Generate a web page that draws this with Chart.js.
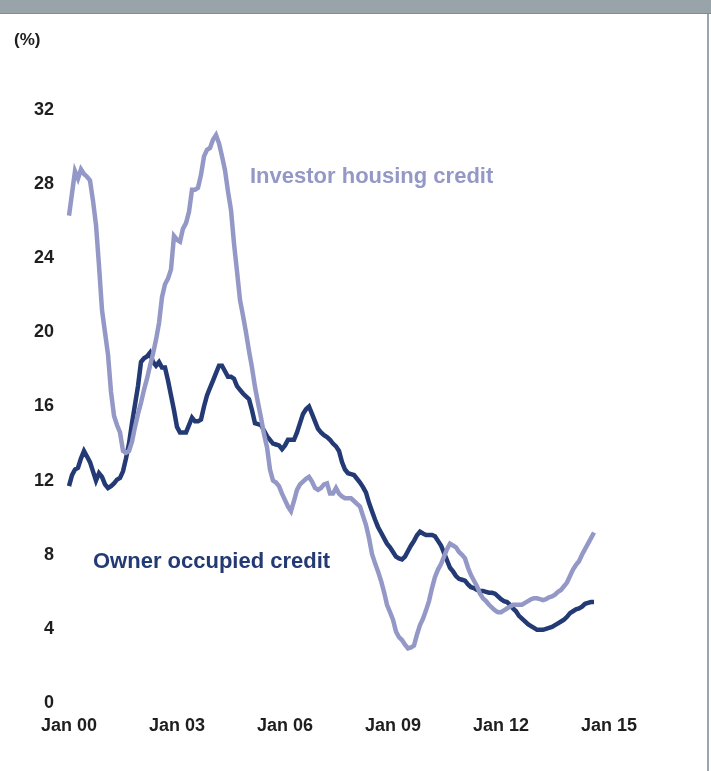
<!DOCTYPE html>
<html>
<head>
  <title>Housing credit growth</title>
  <script src="https://cdn.jsdelivr.net/npm/chart.js@4.4.1/dist/chart.umd.min.js"></script>
  <style>
    body { margin: 0; background: #fff; }
    #frame { position: relative; width: 711px; height: 771px; overflow: hidden; }
    #topbar { position: absolute; left: 0; top: 0; width: 711px; height: 13px; background: #98a4aa; border-bottom: 1px solid #7f8c93; }
    #rightline { position: absolute; left: 707px; top: 14px; width: 2px; height: 757px; background: #9aa6ac; }
    canvas { position: absolute; left: 0; top: 0; }
    .note { position: absolute; font-family: "Liberation Sans", Arial, sans-serif; font-weight: bold; white-space: nowrap; }
  </style>
</head>
<body>
  <div id="frame">
    <canvas id="lineChart" width="711" height="771"></canvas>
    <div id="topbar"></div>
    <div id="rightline"></div>
    <div class="note" style="left:14px; top:30px; font-size:17px; color:#1e1e1e;">(%)</div>
    <div class="note" style="left:250px; top:163px; font-size:22px; color:#9498c6;">Investor housing credit</div>
    <div class="note" style="left:93px; top:548px; font-size:22px; color:#243a74;">Owner occupied credit</div>
  </div>

  <script>
    // monthly, Jan 2000 to Aug 2014, year-ended growth (%)
    var ownerOccupied = [
      11.7, 12.3, 12.6, 12.7, 13.2, 13.6, 13.3, 13.0, 12.5, 12.0, 12.4, 12.2,
      11.8, 11.6, 11.7, 11.85, 12.05, 12.15, 12.5, 13.2, 14.0, 15.1, 16.1, 17.1,
      18.4, 18.6, 18.7, 18.9, 18.4, 18.2, 18.4, 18.1, 18.1, 17.4, 16.6, 15.8,
      14.9, 14.6, 14.6, 14.6, 15.0, 15.4, 15.2, 15.2, 15.3, 16.0, 16.6, 17.0,
      17.4, 17.8, 18.2, 18.2, 17.9, 17.6, 17.6, 17.5, 17.1, 16.9, 16.7, 16.55,
      16.4, 15.8, 15.1, 15.05, 15.0, 14.7, 14.4, 14.2, 14.0, 13.95, 13.9, 13.7,
      13.9, 14.2, 14.2, 14.2, 14.6, 15.1, 15.6, 15.85, 16.0, 15.6, 15.2, 14.8,
      14.6, 14.45, 14.35, 14.2, 14.0, 13.85, 13.6, 13.0, 12.6, 12.4, 12.35, 12.3,
      12.1, 11.9, 11.65, 11.35, 10.8, 10.35, 9.9, 9.5, 9.2, 8.9, 8.6, 8.4,
      8.15, 7.9, 7.8, 7.75, 7.9, 8.2, 8.5, 8.75, 9.05, 9.25, 9.15, 9.07,
      9.07, 9.07, 9.0, 8.75, 8.5, 8.1, 7.7, 7.3, 7.1, 6.85, 6.7, 6.65,
      6.6, 6.4, 6.25, 6.2, 6.1, 6.05, 6.05, 6.0, 5.95, 5.95, 5.9, 5.75,
      5.6, 5.5, 5.45, 5.3, 5.1, 4.95, 4.7, 4.55, 4.4, 4.25, 4.15, 4.05,
      3.95, 3.95, 3.95, 4.0, 4.05, 4.1, 4.2, 4.3, 4.4, 4.5, 4.65, 4.85,
      4.95, 5.05, 5.1, 5.2, 5.35, 5.4, 5.45, 5.45
    ];
    var investor = [
      26.3, 27.5, 28.7, 28.3, 28.8, 28.55, 28.4, 28.2, 27.1, 25.8, 23.6, 21.2,
      20.0, 18.8, 16.8, 15.5, 15.0, 14.6, 13.6, 13.5, 13.6, 14.1, 14.9, 15.6,
      16.2, 16.9, 17.5, 18.2, 18.85, 19.6, 20.5, 21.9, 22.6, 22.9, 23.4, 25.2,
      25.0, 24.9, 25.6, 25.9, 26.5, 27.7, 27.7, 27.8, 28.5, 29.5, 29.85, 29.95,
      30.4, 30.65, 30.2, 29.5, 28.75, 27.6, 26.6, 24.8, 23.3, 21.75, 20.9, 20.0,
      19.0, 18.1, 17.05, 16.2, 15.4, 14.5, 13.8, 12.6, 12.0, 11.9, 11.7, 11.3,
      10.95, 10.6, 10.35, 10.9, 11.5, 11.8, 11.95, 12.1, 12.2, 11.95, 11.6, 11.5,
      11.6, 11.8, 11.85, 11.3, 11.3, 11.6, 11.3, 11.15, 11.05, 11.05, 11.05, 10.9,
      10.75, 10.6, 10.1, 9.6, 8.9, 8.05, 7.55, 7.1, 6.6, 6.0, 5.3, 4.9,
      4.5, 3.85, 3.55, 3.4, 3.15, 2.95, 3.0, 3.1, 3.7, 4.2, 4.55, 5.0,
      5.5, 6.2, 6.8, 7.2, 7.5, 7.9, 8.3, 8.6, 8.5, 8.4, 8.15, 8.0,
      7.8, 7.3, 6.9, 6.6, 6.3, 5.9, 5.65, 5.5, 5.3, 5.15, 5.0, 4.9,
      4.9, 5.0, 5.1, 5.2, 5.3, 5.3, 5.3, 5.3, 5.4, 5.5, 5.6, 5.65,
      5.65, 5.6, 5.55, 5.6, 5.7, 5.75, 5.85, 6.0, 6.1, 6.3, 6.5, 6.85,
      7.2, 7.45, 7.65, 8.0, 8.3, 8.6, 8.9, 9.2
    ];
    var monthNames = ["Jan", "Feb", "Mar", "Apr", "May", "Jun", "Jul", "Aug", "Sep", "Oct", "Nov", "Dec"];
    var tickLabels = ["Jan 00", "Jan 03", "Jan 06", "Jan 09", "Jan 12", "Jan 15"];
    var yTicks = [0, 4, 8, 12, 16, 20, 24, 28, 32];

    // one category per month, Jan 00 .. Jan 15
    var months = [];
    for (var yr = 0; yr <= 15; yr++) {
      for (var m = 0; m < 12; m++) {
        if (yr === 15 && m > 0) break;
        months.push(monthNames[m] + " " + (yr < 10 ? "0" + yr : yr));
      }
    }

    var tickFont = { family: "'Liberation Sans', Arial, sans-serif", size: 18, weight: "bold" };

    new Chart(document.getElementById("lineChart"), {
      type: "line",
      data: {
        labels: months,
        datasets: [
          {
            label: "Investor housing credit",
            data: investor,
            borderColor: "#9498c6",
            borderWidth: 4.5,
            pointRadius: 0,
            tension: 0
          },
          {
            label: "Owner occupied credit",
            data: ownerOccupied,
            borderColor: "#243a74",
            borderWidth: 4.5,
            pointRadius: 0,
            tension: 0
          }
        ]
      },
      options: {
        responsive: false,
        animation: false,
        events: [],
        layout: { padding: { left: 0, right: 102, top: 110, bottom: 28 } },
        plugins: { legend: { display: false }, tooltip: { enabled: false } },
        scales: {
          x: {
            offset: false,
            grid: { display: false, drawTicks: false },
            border: { display: false },
            ticks: {
              autoSkip: false,
              maxRotation: 0,
              padding: 12,
              color: "#1e1e1e",
              font: tickFont,
              callback: function(val, idx) {
                return idx % 36 === 0 ? tickLabels[idx / 36] : null;
              }
            },
            afterFit: function(scale) { scale.height = 40; }
          },
          y: {
            min: 0,
            max: 32,
            afterBuildTicks: function(scale) {
              scale.ticks = yTicks.map(function(v) { return { value: v }; });
            },
            grid: { display: false, drawTicks: false },
            border: { display: false },
            ticks: { padding: 15, color: "#1e1e1e", font: tickFont },
            afterFit: function(scale) { scale.width = 69; }
          }
        }
      }
    });
  </script>
</body>
</html>
